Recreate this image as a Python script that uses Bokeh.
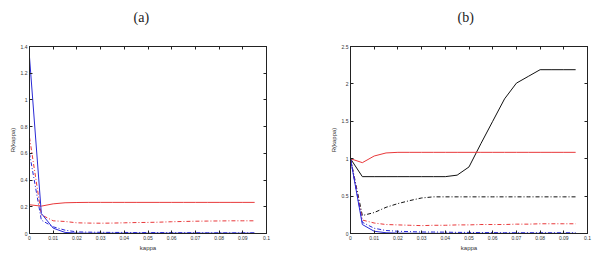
from bokeh.plotting import figure
from bokeh.models import LinearAxis, FixedTicker, Range1d
from bokeh.layouts import row
from bokeh.embed import file_html
from bokeh.resources import INLINE

kappa = [0.0, 0.005, 0.01, 0.015, 0.02, 0.025, 0.03, 0.035, 0.04, 0.045,
         0.05, 0.055, 0.06, 0.065, 0.07, 0.075, 0.08, 0.085, 0.09, 0.095]

# panel (a)
a_blue_solid = [1.32, 0.15, 0.04, 0.008, 0.003, 0.002, 0.002, 0.002, 0.002, 0.002,
                0.002, 0.002, 0.002, 0.002, 0.002, 0.002, 0.002, 0.002, 0.002, 0.002]
a_blue_dashdot = [0.60, 0.10, 0.05, 0.025, 0.012, 0.010, 0.009, 0.008, 0.008, 0.007,
                  0.007, 0.007, 0.006, 0.006, 0.006, 0.005, 0.005, 0.005, 0.005, 0.005]
a_red_solid = [0.215, 0.205, 0.222, 0.230, 0.232, 0.233, 0.233, 0.233, 0.233, 0.233,
               0.233, 0.233, 0.233, 0.233, 0.233, 0.233, 0.233, 0.233, 0.233, 0.233]
a_red_dashdot = [0.72, 0.14, 0.095, 0.09, 0.08, 0.078, 0.077, 0.078, 0.08, 0.082,
                 0.083, 0.085, 0.088, 0.09, 0.092, 0.093, 0.094, 0.095, 0.095, 0.095]

# panel (b)
b_black_solid = [1.0, 0.76, 0.76, 0.76, 0.76, 0.76, 0.76, 0.76, 0.76, 0.78,
                 0.89, 1.2, 1.5, 1.8, 2.01, 2.1, 2.19, 2.19, 2.19, 2.19]
b_black_dashdot = [1.0, 0.24, 0.28, 0.35, 0.40, 0.44, 0.475, 0.49, 0.49, 0.49,
                   0.49, 0.49, 0.49, 0.49, 0.49, 0.49, 0.49, 0.49, 0.49, 0.49]
b_red_solid = [1.0, 0.947, 1.036, 1.077, 1.085, 1.085, 1.085, 1.085, 1.085, 1.085,
               1.085, 1.085, 1.085, 1.085, 1.085, 1.085, 1.085, 1.085, 1.085, 1.085]
b_red_dashdot = [1.0, 0.18, 0.14, 0.12, 0.115, 0.11, 0.105, 0.11, 0.11, 0.115,
                 0.115, 0.12, 0.12, 0.12, 0.125, 0.125, 0.13, 0.13, 0.13, 0.13]
b_blue_solid = [1.0, 0.12, 0.03, 0.01, 0.005, 0.003, 0.002, 0.002, 0.002, 0.002,
                0.002, 0.002, 0.002, 0.002, 0.002, 0.002, 0.002, 0.002, 0.002, 0.002]
b_blue_dashdot = [1.0, 0.15, 0.07, 0.04, 0.03, 0.025, 0.02, 0.02, 0.018, 0.015,
                  0.015, 0.012, 0.012, 0.01, 0.01, 0.01, 0.01, 0.01, 0.01, 0.01]

x_ticks = [0.0, 0.01, 0.02, 0.03, 0.04, 0.05, 0.06, 0.07, 0.08, 0.09, 0.1]
x_tick_labels = ["0", "0.01", "0.02", "0.03", "0.04", "0.05", "0.06", "0.07", "0.08", "0.09", "0.1"]
ya_ticks = [0.0, 0.2, 0.4, 0.6, 0.8, 1.0, 1.2, 1.4]
ya_tick_labels = ["0", "0.2", "0.4", "0.6", "0.8", "1", "1.2", "1.4"]
yb_ticks = [0.0, 0.5, 1.0, 1.5, 2.0, 2.5]
yb_tick_labels = ["0", "0.5", "1", "1.5", "2", "2.5"]

RED = "#e8383a"
BLUE = "#2a2ad6"
BLACK = "#111111"
DASHDOT = "4 2 1 2"
FONT = "Liberation Sans"


def style_axis(ax, ticks, labels, show_labels=True):
    ax.ticker = FixedTicker(ticks=ticks)
    ax.major_label_overrides = dict(zip(ticks, labels))
    ax.major_tick_in = 3
    ax.major_tick_out = 0
    ax.minor_tick_line_color = None
    ax.axis_line_color = "#222222"
    ax.major_tick_line_color = "#222222"
    ax.major_label_text_font = FONT
    ax.major_label_text_color = "#333333"
    if show_labels:
        ax.major_label_text_font_size = "5px"
        ax.major_label_standoff = 2
    else:
        ax.major_label_text_font_size = "1px"
        ax.major_label_text_color = None
        ax.major_label_standoff = 0


def make_panel(title, y_max, y_ticks, y_labels, left, right, offset):
    p = figure(width=297, height=255, output_backend="svg", toolbar_location=None,
               x_range=Range1d(0, 0.1), y_range=Range1d(0, y_max),
               min_border_left=left, min_border_right=right,
               min_border_top=46, min_border_bottom=22)
    p.xgrid.grid_line_color = None
    p.ygrid.grid_line_color = None
    p.outline_line_color = "#222222"
    p.background_fill_color = "white"
    p.border_fill_color = "white"
    p.title.text = title
    p.title.align = "left"
    p.title.text_font = "Liberation Serif"
    p.title.text_font_style = "normal"
    p.title.text_font_size = "14px"
    p.title.text_color = "#222222"
    p.title.standoff = 8
    p.title.offset = offset
    xa = p.xaxis[0]
    ya = p.yaxis[0]
    style_axis(xa, x_ticks, x_tick_labels)
    style_axis(ya, y_ticks, y_labels)
    xa.axis_label = "kappa"
    ya.axis_label = "R(kappa)"
    for ax in (xa, ya):
        ax.axis_label_text_font = FONT
        ax.axis_label_text_font_size = "6px"
        ax.axis_label_text_font_style = "normal"
        ax.axis_label_text_color = "#333333"
        ax.axis_label_standoff = 2
    top = LinearAxis()
    style_axis(top, x_ticks, x_tick_labels, show_labels=False)
    p.add_layout(top, "above")
    # invisible spacer axis that lifts the caption above the frame
    spacer = LinearAxis()
    style_axis(spacer, x_ticks, x_tick_labels, show_labels=False)
    spacer.axis_line_color = None
    spacer.major_tick_line_color = None
    spacer.major_tick_in = 0
    spacer.major_tick_out = 18
    p.add_layout(spacer, "above")
    rgt = LinearAxis()
    style_axis(rgt, y_ticks, y_labels, show_labels=False)
    p.add_layout(rgt, "right")
    return p


pa = make_panel("(a)", 1.4, ya_ticks, ya_tick_labels, 29, 31, 104)
pa.line(kappa, a_red_solid, line_color=RED, line_width=1)
pa.line(kappa, a_red_dashdot, line_color=RED, line_width=1, line_dash=DASHDOT)
pa.line(kappa, a_blue_dashdot, line_color=BLUE, line_width=1, line_dash=DASHDOT)
pa.line(kappa, a_blue_solid, line_color=BLUE, line_width=1)

pb = make_panel("(b)", 2.5, yb_ticks, yb_tick_labels, 53, 7, 107)
pb.line(kappa, b_black_solid, line_color=BLACK, line_width=1)
pb.line(kappa, b_black_dashdot, line_color=BLACK, line_width=1, line_dash=DASHDOT)
pb.line(kappa, b_red_solid, line_color=RED, line_width=1)
pb.line(kappa, b_red_dashdot, line_color=RED, line_width=1, line_dash=DASHDOT)
pb.line(kappa, b_blue_dashdot, line_color=BLUE, line_width=1, line_dash=DASHDOT)
pb.line(kappa, b_blue_solid, line_color=BLUE, line_width=1)

layout = row(pa, pb)
open("out.html", "w").write(file_html(layout, INLINE))
